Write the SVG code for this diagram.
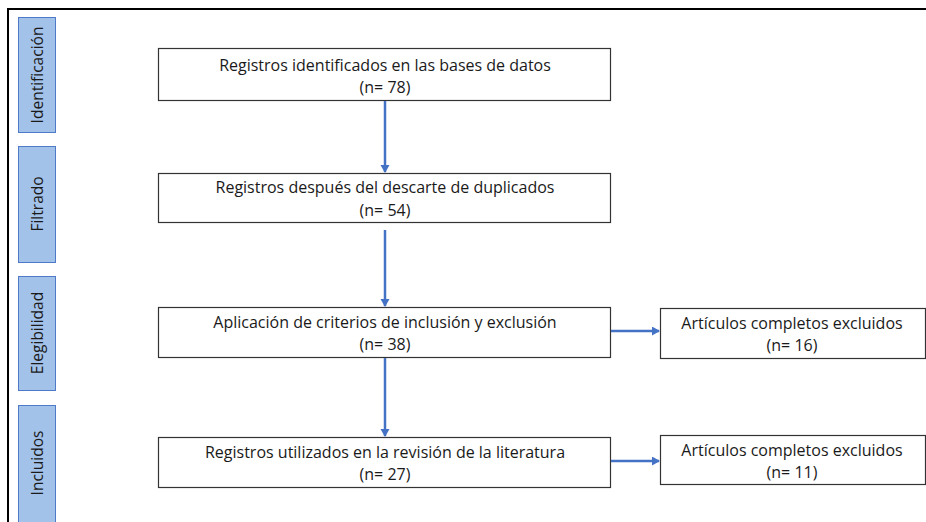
<svg xmlns="http://www.w3.org/2000/svg" width="926" height="522" viewBox="0 0 926 522">
<defs>
<style>
.frame{stroke:#000;stroke-width:2;fill:none}
.side{fill:#a3c2e9;stroke:#4f7ac7;stroke-width:1}
.box{fill:#fff;stroke:#333;stroke-width:1.2}
.t{font-family:"Open Sans","Liberation Sans",sans-serif;font-size:16px;fill:#1a1a1a;text-anchor:middle}
.s{font-size:15.5px}
.c{stroke:#4472c4;stroke-width:2.5;fill:none}
</style>
<marker id="ah" markerWidth="10" markerHeight="10" refX="7" refY="4.5" orient="auto" markerUnits="userSpaceOnUse">
<path d="M0,0 L8,4.5 L0,9 Z" fill="#4472c4"/>
</marker>
</defs>
<rect width="926" height="522" fill="#fff"/>
<path class="frame" d="M8,522 L8,9 L926,9"/>
<g id="lbl-identificacion"><rect class="side" x="18.5" y="17.5" width="37" height="115"/><text class="t s" transform="translate(43,75) rotate(-90)">Identificación</text></g>
<g id="lbl-filtrado"><rect class="side" x="18.5" y="146.5" width="37" height="116"/><text class="t s" transform="translate(43,204) rotate(-90)">Filtrado</text></g>
<g id="lbl-elegibilidad"><rect class="side" x="18.5" y="276.5" width="37" height="114"/><text class="t s" transform="translate(43,333) rotate(-90)">Elegibilidad</text></g>
<g id="lbl-incluidos"><rect class="side" x="18.5" y="405.5" width="37" height="118"/><text class="t s" transform="translate(43,463) rotate(-90)">Incluidos</text></g>
<g id="n1"><rect class="box" x="158.5" y="48.5" width="452" height="52"/><text class="t" x="385" y="71">Registros identificados en las bases de datos</text><text class="t" x="385" y="93">(n= 78)</text></g>
<g id="n2"><rect class="box" x="158.5" y="173.5" width="452" height="49"/><text class="t" x="385" y="193">Registros después del descarte de duplicados</text><text class="t" x="385" y="216">(n= 54)</text></g>
<g id="n3"><rect class="box" x="158.5" y="307.5" width="452" height="50"/><text class="t" x="385" y="328">Aplicación de criterios de inclusión y exclusión</text><text class="t" x="385" y="350">(n= 38)</text></g>
<g id="n4"><rect class="box" x="158.5" y="437.5" width="452" height="50"/><text class="t" x="385" y="458">Registros utilizados en la revisión de la literatura</text><text class="t" x="385" y="480">(n= 27)</text></g>
<g id="x1"><rect class="box" x="660.5" y="308.5" width="265" height="50"/><text class="t" x="792" y="329">Artículos completos excluidos</text><text class="t" x="792" y="351">(n= 16)</text></g>
<g id="x2"><rect class="box" x="660.5" y="435.5" width="265" height="49"/><text class="t" x="792" y="456">Artículos completos excluidos</text><text class="t" x="792" y="478">(n= 11)</text></g>
<g id="connectors">
<line class="c" x1="385" y1="101" x2="385" y2="172" marker-end="url(#ah)"/>
<line class="c" x1="385" y1="230" x2="385" y2="306" marker-end="url(#ah)"/>
<line class="c" x1="385" y1="358" x2="385" y2="436" marker-end="url(#ah)"/>
<line class="c" x1="611" y1="331" x2="659" y2="331" marker-end="url(#ah)"/>
<line class="c" x1="611" y1="461" x2="659" y2="461" marker-end="url(#ah)"/>
</g>
</svg>
